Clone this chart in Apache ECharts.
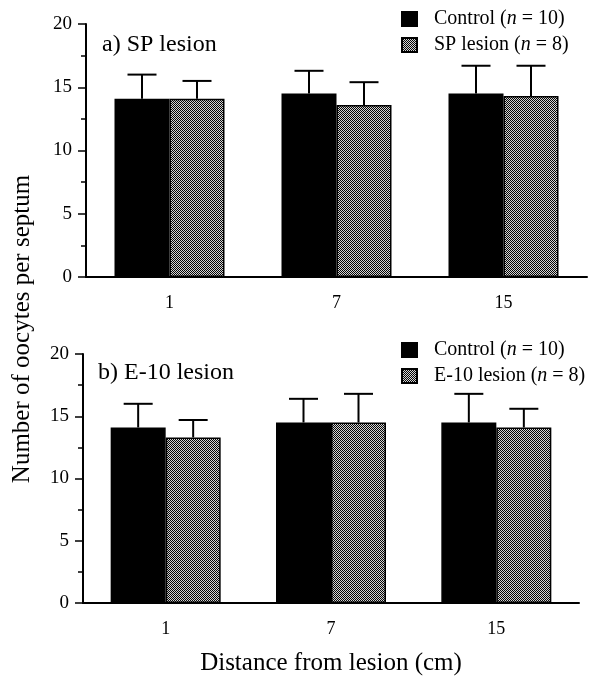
<!DOCTYPE html>
<html>
<head>
<meta charset="utf-8">
<script src="https://cdn.jsdelivr.net/npm/echarts@6/dist/echarts.min.js"></script>
<style>
  html, body { margin: 0; padding: 0; background: #fff; }
  #chart { width: 590px; height: 677px; }
</style>
</head>
<body>
<div id="chart"></div>
<script>
// distances from lesion (cm)
var categories = ["1", "7", "15"];

// a) SP lesion panel
var spControl = [14.1, 14.5, 14.5];
var spControlErr = [1.9, 1.8, 2.2];
var spLesion = [14.1, 13.6, 14.3];
var spLesionErr = [1.4, 1.8, 2.4];

// b) E-10 lesion panel
var e10Control = [14.1, 14.5, 14.5];
var e10ControlErr = [1.9, 1.9, 2.3];
var e10Lesion = [13.3, 14.5, 14.1];
var e10LesionErr = [1.4, 2.3, 1.5];

var yTicks = [0, 5, 10, 15, 20];

var legendLabels = {
  "Control": "Control ({i|n} = 10)",
  "SP lesion": "SP lesion ({i|n} = 8)",
  "E-10 lesion": "E-10 lesion ({i|n} = 8)"
};

var FONT = "Liberation Serif";
var BAR_W = 55;
var CAP_W = 29;

// checkered grey fill for the lesion bars
function checker() {
  var c = document.createElement("canvas");
  c.width = 2; c.height = 2;
  var ctx = c.getContext("2d");
  ctx.fillStyle = "#d4d4d4";
  ctx.fillRect(0, 0, 2, 2);
  ctx.fillStyle = "#050505";
  ctx.fillRect(0, 0, 1, 1);
  ctx.fillRect(1, 1, 1, 1);
  return { image: c, repeat: "repeat" };
}
var grey = checker();

function withErr(vals, errs) {
  return vals.map(function (v, i) { return [i, v, errs[i]]; });
}

function errorSeries(axisIdx, vals, errs, side) {
  return {
    type: "custom",
    xAxisIndex: axisIdx,
    yAxisIndex: axisIdx,
    z: 5,
    silent: true,
    data: withErr(vals, errs),
    encode: { x: 0, y: 1 },
    renderItem: function (params, api) {
      var i = api.value(0);
      var lo = api.coord([i, api.value(1)]);
      var hi = api.coord([i, api.value(1) + api.value(2)]);
      var x = lo[0] + side * BAR_W / 2;
      var st = { stroke: "#000", lineWidth: 2 };
      return {
        type: "group",
        children: [
          { type: "line", shape: { x1: x, y1: lo[1], x2: x, y2: hi[1] }, style: st },
          { type: "line", shape: { x1: x - CAP_W / 2, y1: hi[1], x2: x + CAP_W / 2, y2: hi[1] }, style: st }
        ]
      };
    }
  };
}

function barSeries(name, axisIdx, vals, fill) {
  return {
    name: name,
    type: "bar",
    xAxisIndex: axisIdx,
    yAxisIndex: axisIdx,
    data: vals,
    barWidth: BAR_W,
    barGap: "0%",
    itemStyle: { color: fill, borderColor: "#000", borderWidth: 1.5 }
  };
}

function xAxis(gridIdx, withName) {
  var ax = {
    type: "category",
    gridIndex: gridIdx,
    data: categories,
    axisLine: { lineStyle: { color: "#000", width: 2 } },
    axisTick: { alignWithLabel: true, length: 7, lineStyle: { color: "#000", width: 1.5 } },
    axisLabel: { color: "#000", fontFamily: FONT, fontSize: 18, margin: 17 }
  };
  if (withName) {
    ax.name = "Distance from lesion (cm)";
    ax.nameLocation = "middle";
    ax.nameGap = 48;
    ax.nameTextStyle = { color: "#000", fontFamily: FONT, fontSize: 25 };
  }
  return ax;
}

function yAxis(gridIdx) {
  return {
    type: "value",
    gridIndex: gridIdx,
    min: yTicks[0],
    max: yTicks[yTicks.length - 1],
    interval: yTicks[1] - yTicks[0],
    splitLine: { show: false },
    axisLine: { show: true, lineStyle: { color: "#000", width: 2 } },
    axisTick: { show: true, length: 8, lineStyle: { color: "#000", width: 1.5 } },
    minorTick: { show: true, splitNumber: 2, length: 5, lineStyle: { color: "#000", width: 1.5 } },
    axisLabel: { color: "#000", fontFamily: FONT, fontSize: 19, margin: 14 }
  };
}

function legend(top, names) {
  return {
    data: names,
    orient: "vertical",
    left: 396,
    top: top,
    icon: "rect",
    itemWidth: 15,
    itemHeight: 14,
    itemGap: 6,
    formatter: function (n) { return legendLabels[n]; },
    textStyle: {
      color: "#000", fontFamily: FONT, fontSize: 20, padding: [0, 0, 0, 12],
      rich: { i: { fontFamily: FONT, fontSize: 20, fontStyle: "italic", color: "#000" } }
    }
  };
}

var chart = echarts.init(document.getElementById("chart"), null, { renderer: "canvas" });
chart.setOption({
  backgroundColor: "#fff",
  animation: false,
  title: [
    { text: "a) SP lesion", left: 97, top: 28, textStyle: { fontFamily: FONT, fontSize: 24, fontWeight: "normal", color: "#000" } },
    { text: "b) E-10 lesion", left: 93, top: 356, textStyle: { fontFamily: FONT, fontSize: 24, fontWeight: "normal", color: "#000" } }
  ],
  legend: [
    legend(4, ["Control", "SP lesion"]),
    legend(335, ["Control", "E-10 lesion"])
  ],
  grid: [
    { left: 86, top: 24, width: 501, height: 253 },
    { left: 83, top: 354, width: 496, height: 253 }
  ],
  xAxis: [xAxis(0, false), xAxis(1, true)],
  yAxis: [yAxis(0), yAxis(1)],
  graphic: [{
    type: "text",
    x: 22, y: 329,
    rotation: Math.PI / 2,
    style: {
      text: "Number of oocytes per septum",
      fontFamily: FONT, fontSize: 25, fill: "#000",
      align: "center", verticalAlign: "middle"
    }
  }],
  series: [
    barSeries("Control", 0, spControl, "#000"),
    barSeries("SP lesion", 0, spLesion, grey),
    barSeries("Control", 1, e10Control, "#000"),
    barSeries("E-10 lesion", 1, e10Lesion, grey),
    errorSeries(0, spControl, spControlErr, -1),
    errorSeries(0, spLesion, spLesionErr, 1),
    errorSeries(1, e10Control, e10ControlErr, -1),
    errorSeries(1, e10Lesion, e10LesionErr, 1)
  ]
});
</script>
</body>
</html>
